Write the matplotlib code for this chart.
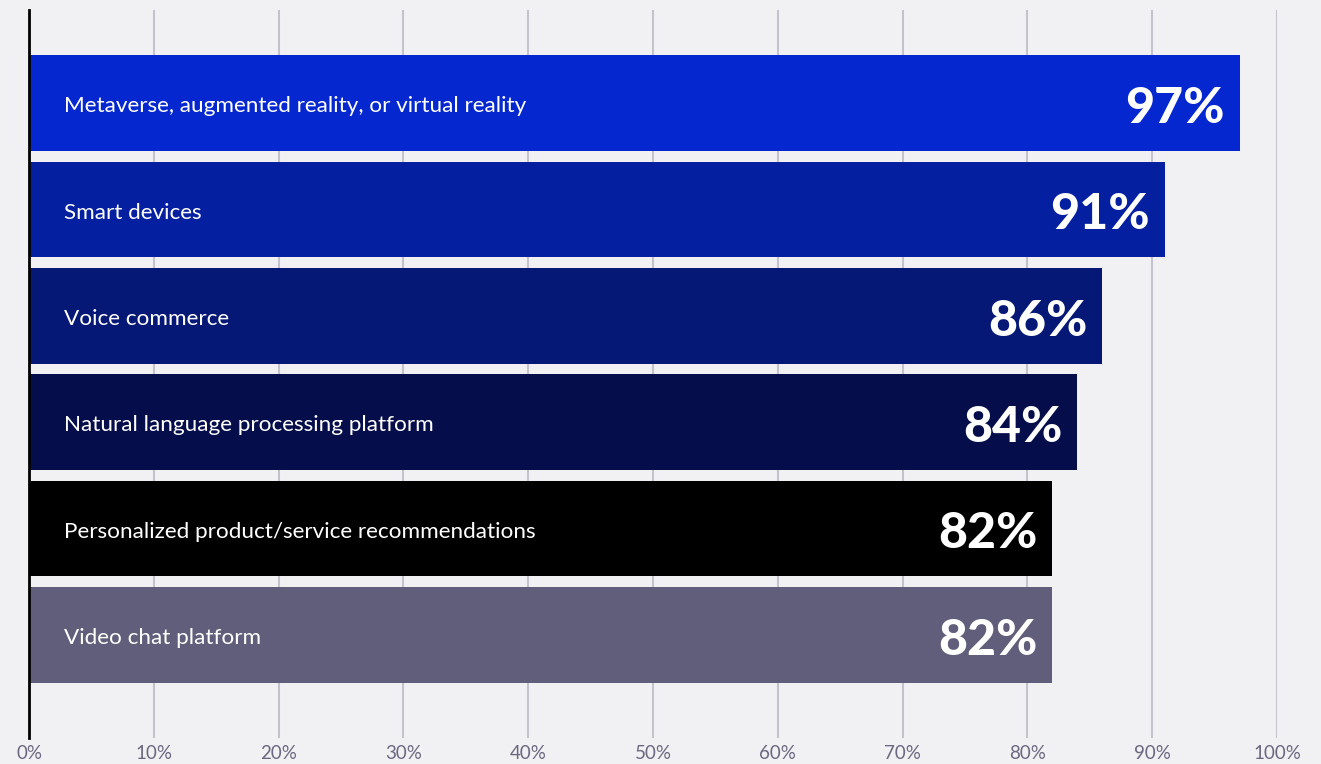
import matplotlib.pyplot as plt

# survey results, top to bottom
labels = [
    "Metaverse, augmented reality, or virtual reality",
    "Smart devices",
    "Voice commerce",
    "Natural language processing platform",
    "Personalized product/service recommendations",
    "Video chat platform",
]
values = [97, 91, 86, 84, 82, 82]
colors = ["#0527CF", "#0420A0", "#061876", "#050E4A", "#000000", "#605E7A"]
ticks = list(range(0, 101, 10))
tick_labels = [f"{t}%" for t in ticks]

bg = "#F1F1F3"
plt.rcParams['font.family'] = ['Lato', 'DejaVu Sans']

fig = plt.figure(figsize=(13.21, 7.64), dpi=100, facecolor=bg)
ax = fig.add_axes([0.022, 0.034, 0.9447, 0.953])
ax.set_facecolor(bg)

pos = list(range(len(values)))
ax.barh(pos, values, height=0.9, color=colors, zorder=2)

for y, v, lab in zip(pos, values, labels):
    ax.text(2.8, y + 0.03, lab, color="white", fontsize=16.2, va="center", ha="left", zorder=3)
    ax.text(v - 1.2, y + 0.05, f"{v}%", color="white", fontsize=36, fontweight="black",
            va="center", ha="right", zorder=3)

ax.set_xlim(0, 100)
ax.set_ylim(len(values) - 1 + 0.97, -0.876)
ax.set_xticks(ticks)
ax.set_xticklabels(tick_labels, fontsize=13.5, color="#6A6880")
ax.set_yticks([])
ax.tick_params(axis="x", length=0, pad=5)
ax.xaxis.grid(True, color="#C4C2CC", linewidth=1.5, zorder=0)
ax.get_xgridlines()[0].set_visible(False)

for s in ["top", "right", "bottom"]:
    ax.spines[s].set_visible(False)
ax.spines["left"].set_color("black")
ax.spines["left"].set_linewidth(2)
ax.spines["left"].set_zorder(4)

fig.savefig("out.png", dpi=100, facecolor=bg)
